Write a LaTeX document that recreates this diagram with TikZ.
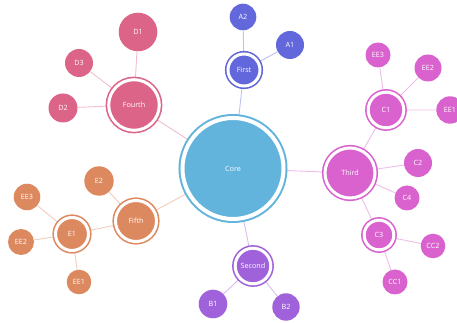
\documentclass[tikz,border=0pt]{standalone}
\usepackage{fontspec}
\setmainfont{Open Sans}
\def\px{0.75pt}
\definecolor{cblue}{HTML}{62B4DC}
\definecolor{cpink}{HTML}{DC6488}
\definecolor{cindigo}{HTML}{6268DC}
\definecolor{cmagenta}{HTML}{DA62CE}
\definecolor{cviolet}{HTML}{A062DA}
\definecolor{corange}{HTML}{DD895F}
\pgfdeclarelayer{links}
\pgfsetlayers{links,main}
\tikzset{
  bubble/.style={circle, inner sep=0pt, fill=#1, text=white,
    font=\fontsize{5.4}{6}\selectfont},
  leafnode/.style 2 args={bubble=#1, minimum size=2*#2*\px},
  hubnode/.style 2 args={bubble=#1, draw=#1, double=white,
    double distance=3*\px, line width=1.6*\px, minimum size=2*#2*\px},
  link/.style={draw=#1!42, line width=0.9*\px},
}
\begin{document}
\begin{tikzpicture}[x=\px, y=-\px]
\useasboundingbox (0,0) rectangle (457,323);

% core
\node[bubble=cblue, draw=cblue, double=white, double distance=4*\px,
      line width=2*\px, minimum size=2*50.5*\px] (core) at (233,168.5) {Core};

% first branch
\node[hubnode={cindigo}{16}] (first) at (244,70) {First};
\node[leafnode={cindigo}{14}] (a1) at (290,45) {A1};
\node[leafnode={cindigo}{13.3}] (a2) at (243,17) {A2};

% second branch
\node[hubnode={cviolet}{17.8}] (second) at (253,266) {Second};
\node[leafnode={cviolet}{14.3}] (b1) at (213,304) {B1};
\node[leafnode={cviolet}{13.7}] (b2) at (286,307) {B2};

% third branch
\node[hubnode={cmagenta}{25}] (third) at (350,173) {Third};
\node[hubnode={cmagenta}{17.8}] (c1) at (386,110) {C1};
\node[leafnode={cmagenta}{14}] (c2) at (418,163) {C2};
\node[hubnode={cmagenta}{14.8}] (c3) at (379,235) {C3};
\node[leafnode={cmagenta}{12.5}] (c4) at (407,198) {C4};
\node[leafnode={cmagenta}{13.7}] (c1e1) at (450,110) {EE1};
\node[leafnode={cmagenta}{13.5}] (c1e2) at (428,68) {EE2};
\node[leafnode={cmagenta}{12.5}] (c1e3) at (378,55) {EE3};
\node[leafnode={cmagenta}{12.5}] (cc1) at (395,282) {CC1};
\node[leafnode={cmagenta}{12.3}] (cc2) at (433,246) {CC2};

% fourth branch
\node[hubnode={cpink}{25.3}] (fourth) at (134,105) {Fourth};
\node[leafnode={cpink}{19.3}] (d1) at (138,32) {D1};
\node[leafnode={cpink}{14.5}] (d2) at (63,108) {D2};
\node[leafnode={cpink}{14}] (d3) at (79,63) {D3};

% fifth branch
\node[hubnode={corange}{20.5}] (fifth) at (136,221) {Fifth};
\node[hubnode={corange}{16.5}] (e1) at (72,234) {E1};
\node[leafnode={corange}{14.7}] (e2) at (99,181) {E2};
\node[leafnode={corange}{12.3}] (e1e1) at (79,282) {EE1};
\node[leafnode={corange}{13}] (e1e2) at (21,242) {EE2};
\node[leafnode={corange}{13.3}] (e1e3) at (27,197) {EE3};

% connectors, drawn behind the bubbles
\begin{pgfonlayer}{links}
  \draw[link=cindigo] (core) -- (first) (first) -- (a1) (first) -- (a2);
  \draw[link=cviolet] (core) -- (second) (second) -- (b1) (second) -- (b2);
  \draw[link=cmagenta] (core) -- (third) (third) -- (c1) (third) -- (c2)
    (third) -- (c3) (third) -- (c4) (c1) -- (c1e1) (c1) -- (c1e2)
    (c1) -- (c1e3) (c3) -- (cc1) (c3) -- (cc2);
  \draw[link=cpink] (core) -- (fourth) (fourth) -- (d1) (fourth) -- (d2)
    (fourth) -- (d3);
  \draw[link=corange] (core) -- (fifth) (fifth) -- (e1) (fifth) -- (e2)
    (e1) -- (e1e1) (e1) -- (e1e2) (e1) -- (e1e3);
\end{pgfonlayer}
\end{tikzpicture}
\end{document}
